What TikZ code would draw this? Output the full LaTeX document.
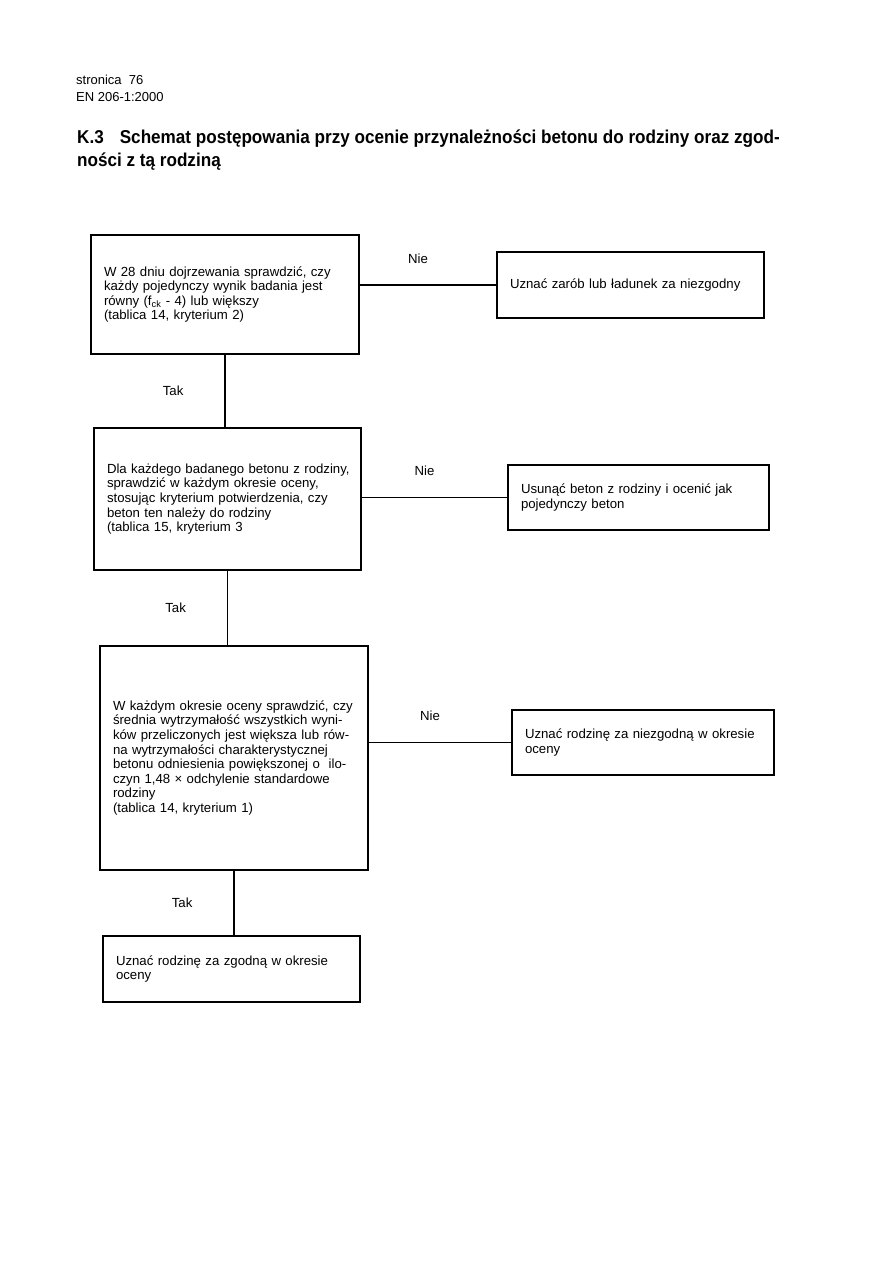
\documentclass[tikz,border=0pt]{standalone}
\usepackage{fontspec}
\setmainfont{Liberation Sans}
\newfontfamily\narrowfont[FakeStretch=0.92]{Liberation Sans}
\usetikzlibrary{positioning,calc}
\hyphenpenalty=10000
\exhyphenpenalty=10000
\hfuzz=30pt
\tikzset{
  box/.style={draw,line width=1.6pt,align=left,inner xsep=13pt,inner ysep=3pt,font=\fontsize{13.2}{14.6}\selectfont},
  lbl/.style={inner sep=1pt,font=\fontsize{13.2}{14.6}\selectfont},
  ln/.style={line width=1.2pt},
  hdr/.style={inner sep=0pt,align=left,font=\fontsize{13}{16.5}\selectfont},
  ttl/.style={inner sep=0pt,align=left,font=\narrowfont\bfseries\fontsize{18.6}{23}\selectfont},
}

\begin{document}
\begin{tikzpicture}[x=1pt,y=-1pt]
 \useasboundingbox[fill=white] (0,0) rectangle (893,1261);
 % page head and title
 \node[hdr,anchor=base west] (head) at (76,101) {stronica\ \ 76\\EN 206-1:2000};
 \node[ttl,anchor=base west] (title) at (77,166) {K.3\hspace{16pt}Schemat postępowania przy ocenie przynależności betonu do rodziny oraz zgod-\\ności z tą rodziną};
 % checks (left column)
 \node[box,text width=242pt,minimum height=119pt] (chk1) at (225,294.5) {W 28 dniu dojrzewania sprawdzić, czy\\każdy pojedynczy wynik badania jest\\równy (f\textsubscript{ck} - 4) lub większy\\(tablica 14, kryterium 2)};
 \node[box,text width=241pt,minimum height=142pt] (chk2) at (227.5,499) {Dla~każdego~badanego~betonu~z~rodziny,\\sprawdzić w każdym okresie oceny,\\stosując kryterium potwierdzenia, czy\\beton ten należy do rodziny\\(tablica 15, kryterium 3};
 \node[box,text width=242pt,minimum height=224pt] (chk3) at (234,758) {W~każdym~okresie~oceny~sprawdzić,~czy\\średnia~wytrzymałość~wszystkich~wyni-\\ków~przeliczonych~jest~większa~lub~rów-\\na wytrzymałości charakterystycznej\\betonu odniesienia powiększonej o\ \ ilo-\\czyn 1,48 × odchylenie standardowe\\rodziny\\(tablica 14, kryterium 1)};
 \node[box,text width=231pt,minimum height=66pt] (ok) at (231.5,969) {Uznać rodzinę za zgodną w okresie\\oceny};
 % outcomes (right column)
 \node[box,text width=241pt,minimum height=66pt] (rej1) at (630.5,285) {Uznać zarób lub ładunek za niezgodny};
 \node[box,text width=235pt,minimum height=65pt] (rej2) at (638.5,497.5) {Usunąć beton z rodziny i ocenić jak\\pojedynczy beton};
 \node[box,text width=236pt,minimum height=65pt] (rej3) at (643,742.5) {Uznać~rodzinę~za~niezgodną~w~okresie\\oceny};
 % Tak
 \draw[ln] (chk1.south) -- (chk1.south |- chk2.north) node[lbl,midway,left=40pt]{Tak};
 \draw[ln] (chk2.south) -- (chk2.south |- chk3.north) node[lbl,midway,left=40pt]{Tak};
 \draw[ln] (chk3.south) -- (chk3.south |- ok.north) node[lbl,midway,left=40pt]{Tak};
 % Nie
 \draw[ln] (rej1.west -| chk1.east) -- (rej1.west) node[lbl,midway,above=20pt,xshift=-10pt]{Nie};
 \draw[ln] (rej2.west -| chk2.east) -- (rej2.west) node[lbl,midway,above=20pt,xshift=-10pt]{Nie};
 \draw[ln] (rej3.west -| chk3.east) -- (rej3.west) node[lbl,midway,above=20pt,xshift=-10pt]{Nie};
\end{tikzpicture}
\end{document}
